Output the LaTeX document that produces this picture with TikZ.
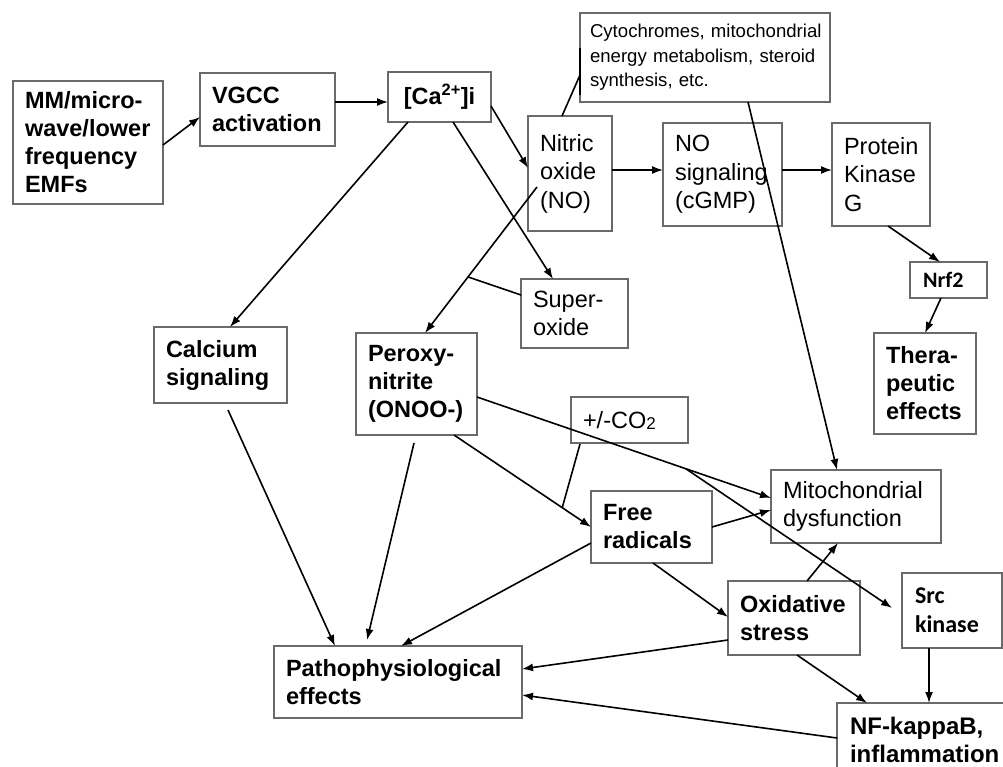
\documentclass[tikz,border=0pt]{standalone}
\usepackage{fontspec}
\setmainfont{Liberation Sans}
\newfontfamily\calibfont{Carlito}
\usetikzlibrary{arrows.meta,calc}
\definecolor{boxgray}{HTML}{6A6A6A}
\begin{document}
\begin{tikzpicture}[x=1pt,y=-1pt,
 box/.style={draw=boxgray,line width=1.5pt,anchor=north west,outer sep=0pt,inner xsep=12pt,inner ysep=0pt,align=left,font=\fontsize{23.5}{28.5}\selectfont},
 bbox/.style={box,font=\bfseries\fontsize{23.5}{28}\selectfont},
 arr/.style={-{Latex[length=11pt,width=8pt]},line width=1.6pt},
 ln/.style={line width=1.6pt}]
\useasboundingbox (0,0) rectangle (1003,767);

\node[bbox,minimum width=150pt,minimum height=123pt,text width=126pt] (mm) at (13,81) {MM/micro-\\wave/lower\\frequency\\EMFs};
\node[bbox,minimum width=135pt,minimum height=73pt,text width=111pt] (vgcc) at (200,73) {VGCC\\activation};
\node[bbox,align=center,minimum width=103pt,minimum height=50pt,text width=79pt] (ca) at (388,72) {[Ca\textsuperscript{2+}]i};
\node[box,font=\fontsize{18.6}{24.5}\selectfont,inner xsep=10pt,minimum width=250pt,minimum height=89pt,text width=230pt] (cyto) at (580,13) {\mbox{Cytochromes, mitochondrial}\\\mbox{energy metabolism, steroid}\\\mbox{synthesis, etc.}};
\node[box,minimum width=84pt,minimum height=115pt,text width=60pt] (no) at (528,116) {Nitric\\oxide\\(NO)};
\node[box,minimum width=119pt,minimum height=103pt,text width=95pt] (nosig) at (663,123) {NO\\signaling\\(cGMP)};
\node[box,minimum width=98pt,minimum height=103pt,text width=74pt] (pkg) at (832,123) {Protein\\Kinase\\G};
\node[box,font=\calibfont\bfseries\fontsize{22}{26}\selectfont,inner xsep=13pt,minimum width=77pt,minimum height=36pt,text width=51pt] (nrf) at (910,262) {Nrf2};
\node[bbox,minimum width=102pt,minimum height=101pt,text width=78pt] (thera) at (874,333) {Thera-\\peutic\\effects};
\node[box,minimum width=107pt,minimum height=69pt,text width=83pt] (super) at (521,279) {Super-\\oxide};
\node[bbox,minimum width=121pt,minimum height=102pt,text width=97pt] (peroxy) at (356,333) {Peroxy-\\nitrite\\(ONOO-)};
\node[box,minimum width=117pt,minimum height=46pt,text width=93pt] (co) at (571,397) {+/-CO\raisebox{-1pt}{\fontsize{17}{17}\selectfont 2}};
\node[bbox,minimum width=133pt,minimum height=76pt,text width=109pt] (calc) at (154,327) {Calcium\\signaling};
\node[bbox,minimum width=121pt,minimum height=72pt,text width=97pt] (fr) at (591,491) {Free\\radicals};
\node[box,minimum width=170pt,minimum height=73pt,text width=146pt] (mito) at (771,470) {Mitochondrial\\dysfunction};
\node[bbox,minimum width=132pt,minimum height=74pt,text width=108pt] (ox) at (728,581) {Oxidative\\stress};
\node[box,font=\calibfont\bfseries\fontsize{24}{29}\selectfont,inner xsep=13pt,minimum width=100pt,minimum height=75pt,text width=74pt] (src) at (902,573) {Src\\kinase};
\node[bbox,font=\bfseries\fontsize{24}{28.5}\selectfont,inner xsep=13pt,minimum width=180pt,minimum height=74pt,text width=154pt] (nfkb) at (837,703) {NF-kappaB,\\inflammation};
\node[bbox,minimum width=248pt,minimum height=72pt,text width=224pt] (patho) at (274,646) {Pathophysiological\\effects};

\draw[arr] ($(mm.north west)+(150,64)$) -- ($(vgcc.north west)+(0,44)$);
\draw[arr] ($(vgcc.north west)+(135,29)$) -- ($(ca.north west)+(0,30)$);
\draw[arr] ($(ca.north west)+(20,50)$) -- ($(calc.north west)+(76,0)$);
\draw[arr] ($(ca.north west)+(103,34)$) -- ($(no.north west)+(0,52)$);
\draw[arr] ($(ca.north west)+(65,50)$) -- ($(super.north west)+(32,0)$);
\coordinate (p1) at ($(no.north west)+(9,71)$);
\coordinate (p2) at ($(peroxy.north west)+(69,0)$);
\draw[arr] (p1) -- (p2);
\draw[ln] ($(super.north west)+(0,16)$) -- ($(p1)!0.616!(p2)$);
\draw[ln] ($(no.north west)+(34,0)$) -- ($(cyto.north west)+(0,62)$);
\draw[line width=2.6pt] ($(cyto.north west)+(0,35)$) -- ($(cyto.north west)+(0,82)$);
\draw[arr] ($(no.north west)+(84,54)$) -- ($(nosig.north west)+(0,47)$);
\draw[arr] ($(nosig.north west)+(119,47)$) -- ($(pkg.north west)+(0,47)$);
\draw[arr] ($(pkg.north west)+(56,103)$) -- ($(nrf.north west)+(30,0)$);
\draw[arr] ($(nrf.north west)+(31,36)$) -- ($(thera.north west)+(51,0)$);
\draw[arr] ($(cyto.north west)+(168,89)$) -- ($(mito.north west)+(66,0)$);
\draw[arr] ($(calc.north west)+(74,83)$) -- ($(patho.north west)+(61,0)$);
\draw[arr] ($(peroxy.north west)+(58,110)$) -- ($(patho.north west)+(93,-6)$);
\coordinate (p3) at ($(peroxy.north west)+(98,102)$);
\coordinate (p4) at ($(fr.north west)+(0,36)$);
\draw[arr] (p3) -- (p4);
\draw[ln] ($(co.north west)+(9,47)$) -- ($(p3)!0.79!(p4)$);
\coordinate (p5) at ($(peroxy.north west)+(121,64)$);
\coordinate (p6) at ($(mito.north west)+(0,28)$);
\draw[arr] (p5) -- (p6);
\draw[arr] ($(p5)!0.71!(p6)$) -- ($(src.north west)+(-10,35)$);
\draw[arr] ($(fr.north west)+(121,36)$) -- ($(mito.north west)+(0,40)$);
\draw[arr] ($(fr.north west)+(0,52)$) -- ($(patho.north west)+(127,0)$);
\draw[arr] ($(fr.north west)+(62,72)$) -- ($(ox.north west)+(0,36)$);
\draw[arr] ($(ox.north west)+(79,0)$) -- ($(mito.north west)+(67,73)$);
\draw[arr] ($(ox.north west)+(0,59)$) -- ($(patho.north west)+(248,23)$);
\draw[arr] ($(ox.north west)+(69,74)$) -- ($(nfkb.north west)+(30,0)$);
\draw[arr] ($(src.north west)+(27,75)$) -- ($(nfkb.north west)+(92,0)$);
\draw[arr] ($(nfkb.north west)+(0,35)$) -- ($(patho.north west)+(248,49)$);
\end{tikzpicture}
\end{document}
